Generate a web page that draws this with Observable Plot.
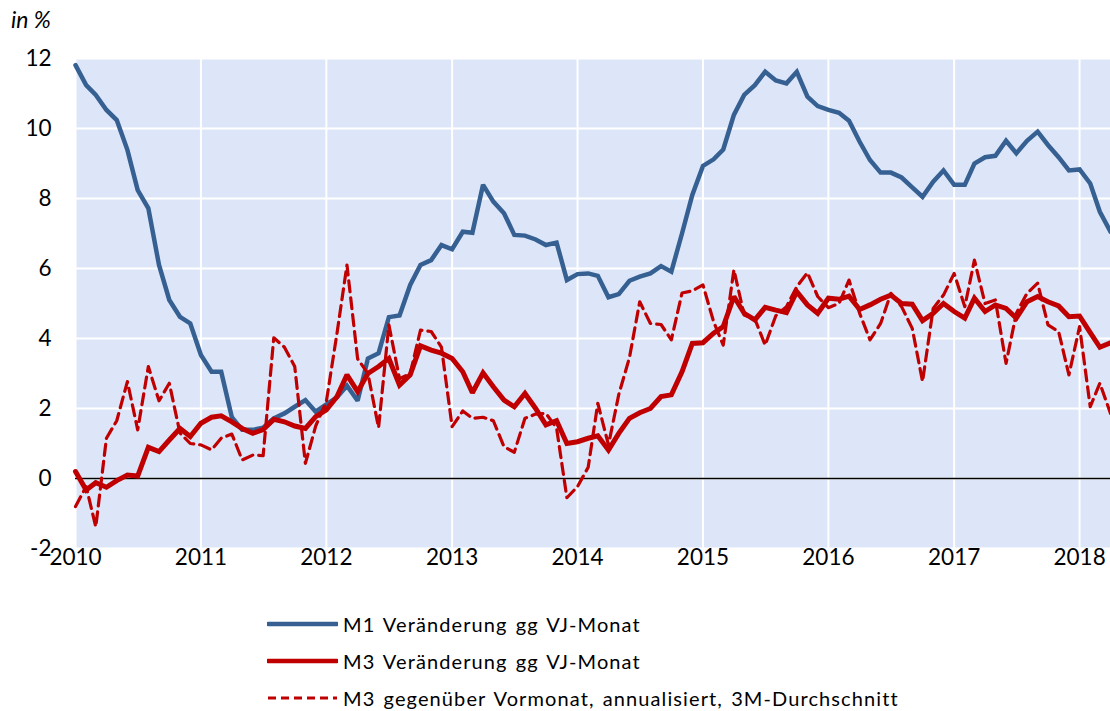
<!DOCTYPE html>
<html>
<head>
<meta charset="utf-8">
<script src="https://cdn.jsdelivr.net/npm/d3@7"></script>
<script src="https://cdn.jsdelivr.net/npm/@observablehq/plot@0.6"></script>
<style>
  html, body { margin: 0; padding: 0; background: #fff; }
  #wrap { position: relative; width: 1110px; height: 711px; overflow: hidden; font-family: Lato, "Open Sans", sans-serif; color: #000; }
  #unit { position: absolute; left: 11px; top: 5px; font-size: 23px; font-style: italic; }
  #chart { position: absolute; left: 0; top: 0; }
  #chart svg text { font-size: 22.5px !important; fill: #000; }
  #legend { position: absolute; left: 267px; top: 605px; font-size: 20px; letter-spacing: 1.1px; word-spacing: 2px; }
  .row { display: flex; align-items: center; height: 37px; }
  .row svg { margin-right: 5px; }
</style>
</head>
<body>
<div id="wrap">
  <div id="chart"></div>
  <div id="unit">in %</div>
  <div id="legend"></div>
</div>
<script>
// Monthly values, Jan 2010 – Apr 2018
const startMonth = "2010-01";
const endMonth = "2018-04";
const yearTicks = [2010, 2011, 2012, 2013, 2014, 2015, 2016, 2017, 2018];
const yTicks = [-2, 0, 2, 4, 6, 8, 10, 12];

const seriesNames = [
  "M1 Veränderung gg VJ-Monat",
  "M3 Veränderung gg VJ-Monat",
  "M3 gegenüber Vormonat, annualisiert, 3M-Durchschnitt"
];

const m1 = [11.81, 11.24, 10.96, 10.53, 10.24, 9.39, 8.24, 7.72, 6.10, 5.10, 4.62, 4.43, 3.53, 3.05, 3.05,
  1.75, 1.39, 1.39, 1.45, 1.72, 1.86, 2.05, 2.24, 1.91, 2.12, 2.32, 2.65, 2.22, 3.43, 3.58, 4.61, 4.66,
  5.53, 6.10, 6.24, 6.67, 6.55, 7.05, 7.02, 8.39, 7.91, 7.58, 6.96, 6.94, 6.83, 6.67, 6.74, 5.67, 5.84,
  5.86, 5.79, 5.18, 5.27, 5.65, 5.77, 5.86, 6.07, 5.91, 7.0, 8.10, 8.93, 9.12, 9.40, 10.39, 10.96, 11.24,
  11.62, 11.37, 11.29, 11.62, 10.91, 10.64, 10.53,
  10.45, 10.22, 9.62, 9.10, 8.74, 8.74, 8.60, 8.32, 8.05, 8.48, 8.80, 8.39, 8.39, 9.00, 9.18, 9.22, 9.65,
  9.29, 9.65, 9.91, 9.53, 9.18, 8.80, 8.83, 8.43, 7.62, 7.05];

const m3 = [0.20, -0.33, -0.12, -0.25, -0.06, 0.10, 0.07, 0.89, 0.77, 1.10, 1.43, 1.20, 1.58, 1.75, 1.79,
  1.62, 1.43, 1.29, 1.40, 1.69, 1.62, 1.50, 1.43, 1.77, 1.96,
  2.34, 2.96, 2.48, 3.0, 3.20, 3.43, 2.67, 2.96, 3.79, 3.67, 3.58, 3.43, 3.05, 2.45, 3.02, 2.62, 2.24,
  2.05, 2.43, 2.0, 1.53, 1.65, 1.0, 1.05,
  1.15, 1.22, 0.81, 1.29, 1.72, 1.88, 2.0, 2.34, 2.39, 3.05, 3.86, 3.88, 4.15, 4.34, 5.20, 4.72, 4.53,
  4.89, 4.81, 4.74, 5.34, 4.96, 4.72, 5.15,
  5.12, 5.21, 4.83, 4.96, 5.12, 5.24, 5.0, 4.98, 4.51, 4.72, 5.0, 4.77, 4.58, 5.15, 4.77, 4.96, 4.86,
  4.58, 5.05, 5.20, 5.05, 4.93, 4.62, 4.64, 4.17, 3.75, 3.88];

const m3ann = [-0.80, -0.23, -1.38, 1.15, 1.65, 2.77, 1.39, 3.20, 2.22, 2.72, 1.30, 1.0, 0.96, 0.82, 1.15,
  1.27, 0.53, 0.67, 0.65,
  4.02, 3.75, 3.20, 0.43, 1.50, 2.2, 4.15, 6.1, 3.42, 3.0, 1.45,
  4.39, 2.85, 3.0, 4.24, 4.2, 3.75, 1.48, 1.93, 1.72, 1.75, 1.65, 0.91, 0.75, 1.72, 1.84, 1.86, 1.44,
  -0.55, -0.23,
  0.32, 2.15, 0.96, 2.4, 3.45, 5.05, 4.43, 4.4, 3.96, 5.3, 5.36, 5.53, 4.48, 3.81, 5.96, 4.67, 4.56,
  3.81, 4.65, 4.91, 5.48, 5.88, 5.2, 4.88,
  5.0, 5.67, 4.72, 3.96, 4.43, 5.29, 4.91, 4.29, 2.77, 4.86, 5.24, 5.86, 4.91, 6.24, 5.0, 5.1, 3.29,
  4.72, 5.29, 5.58, 4.39, 4.2, 2.96, 4.34, 2.05, 2.72, 1.86];

const colors = ["#376092", "#C00000", "#C00000"];

const parse = d3.utcParse("%Y-%m");
const months = d3.utcMonth.range(parse(startMonth), d3.utcMonth.offset(parse(endMonth), 1));
const toRows = (vals) => vals.map((v, i) => ({date: months[i], value: v}));
const yearDates = yearTicks.map(y => new Date(Date.UTC(y, 0, 1)));
const font = "Lato, 'Open Sans', sans-serif";

const plot = Plot.plot({
  width: 1110,
  height: 600,
  marginLeft: 75,
  marginRight: 0,
  marginTop: 58,
  marginBottom: 52,
  style: {fontFamily: font, color: "#000", background: "transparent"},
  x: {type: "utc", domain: [months[0], months[months.length - 1]], label: null},
  y: {domain: [-2, 12], label: null},
  marks: [
    Plot.frame({fill: "#dce6f8", stroke: "none"}),
    Plot.gridX(yearDates, {stroke: "#fff", strokeOpacity: 1, strokeWidth: 2}),
    Plot.gridY(yTicks, {stroke: "#fff", strokeOpacity: 1, strokeWidth: 2}),
    Plot.ruleY([0], {stroke: "#000", strokeWidth: 1.5}),
    Plot.axisX(yearDates, {tickSize: 0, tickPadding: 1, tickFormat: d3.utcFormat("%Y"), label: null}),
    Plot.axisY(yTicks, {tickSize: 0, tickPadding: 24, tickFormat: d => String(d), label: null}),
    Plot.lineY(toRows(m1), {x: "date", y: "value", stroke: colors[0], strokeWidth: 4.5, strokeLinejoin: "miter", strokeMiterlimit: 2}),
    Plot.lineY(toRows(m3), {x: "date", y: "value", stroke: colors[1], strokeWidth: 5, strokeLinejoin: "miter", strokeMiterlimit: 2}),
    Plot.lineY(toRows(m3ann), {x: "date", y: "value", stroke: colors[2], strokeWidth: 3.2, strokeDasharray: "11,6", strokeLinejoin: "round"})
  ]
});
document.getElementById("chart").appendChild(plot);

// Legend
const legend = d3.select("#legend");
seriesNames.forEach((name, i) => {
  const row = legend.append("div").attr("class", "row");
  const s = row.append("svg").attr("width", 71).attr("height", 10);
  s.append("line").attr("x1", 1).attr("x2", 70).attr("y1", 5).attr("y2", 5)
    .attr("stroke", colors[i])
    .attr("stroke-width", i === 2 ? 3 : 4.5)
    .attr("stroke-linecap", i === 2 ? "butt" : "round")
    .attr("stroke-dasharray", i === 2 ? "8,5" : null);
  row.append("span").text(name);
});
</script>
</body>
</html>
